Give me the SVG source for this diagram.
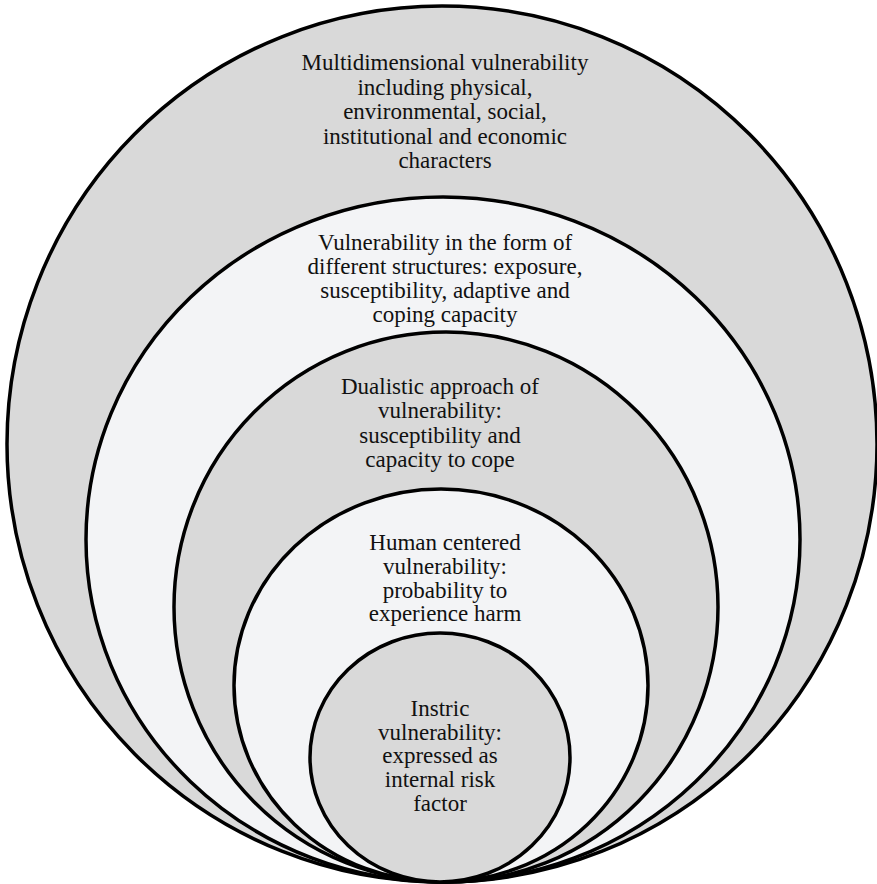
<svg xmlns="http://www.w3.org/2000/svg" width="877" height="884" viewBox="0 0 877 884">
<style>
.ring{stroke:#000;stroke-width:3.5}
.dark{fill:#d9d9d9}
.light{fill:#f3f4f6}
text{font-family:"Liberation Serif","Times New Roman",serif;font-size:23px;fill:#111;text-anchor:middle}
</style>
<rect width="877" height="884" fill="#fff"/>
<g id="n1">
<ellipse class="ring dark" cx="442" cy="444" rx="435" ry="438"/>
<text x="445" y="70">Multidimensional vulnerability</text>
<text x="445" y="95">including physical,</text>
<text x="445" y="119">environmental, social,</text>
<text x="445" y="144">institutional and economic</text>
<text x="445" y="168">characters</text>
</g>
<g id="n2">
<ellipse class="ring light" cx="443" cy="539.5" rx="357" ry="342.5"/>
<text x="445" y="250">Vulnerability in the form of</text>
<text x="445" y="274">different structures: exposure,</text>
<text x="445" y="298">susceptibility, adaptive and</text>
<text x="445" y="322">coping capacity</text>
</g>
<g id="n3">
<ellipse class="ring dark" cx="446" cy="607" rx="272" ry="275"/>
<text x="440" y="394">Dualistic approach of</text>
<text x="440" y="418">vulnerability:</text>
<text x="440" y="443">susceptibility and</text>
<text x="440" y="467">capacity to cope</text>
</g>
<g id="n4">
<ellipse class="ring light" cx="441" cy="685.5" rx="207" ry="196.5"/>
<text x="445" y="550">Human centered</text>
<text x="445" y="574">vulnerability:</text>
<text x="445" y="598">probability to</text>
<text x="445" y="621">experience harm</text>
</g>
<g id="n5">
<ellipse class="ring dark" cx="440" cy="757.5" rx="130" ry="124.5"/>
<text x="440" y="716">Instric</text>
<text x="440" y="740">vulnerability:</text>
<text x="440" y="763">expressed as</text>
<text x="440" y="787">internal risk</text>
<text x="440" y="811">factor</text>
</g>
<g id="connectors"></g>
</svg>
